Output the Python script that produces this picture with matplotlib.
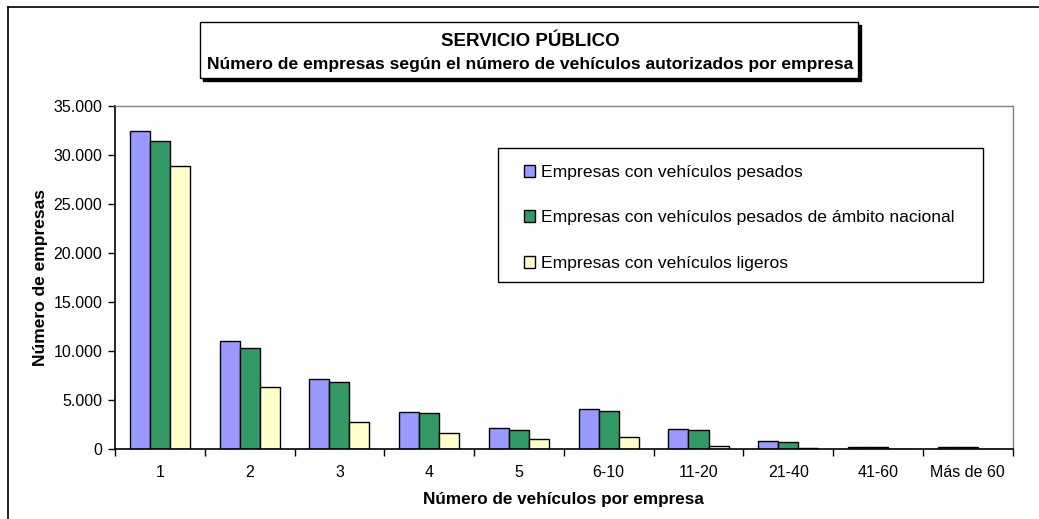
import numpy as np
import matplotlib
matplotlib.use('Agg')
import matplotlib.pyplot as plt
from matplotlib.patches import Rectangle
from matplotlib.ticker import FuncFormatter

categorias = ['1', '2', '3', '4', '5', '6-10', '11-20', '21-40', '41-60', 'Más de 60']
pesados = [32480, 11040, 7170, 3800, 2170, 4150, 2040, 850, 200, 200]
pesados_nacional = [31430, 10360, 6860, 3670, 2000, 3945, 1940, 785, 190, 185]
ligeros = [28850, 6380, 2815, 1695, 1080, 1225, 380, 90, 30, 30]

series = ['Empresas con vehículos pesados',
          'Empresas con vehículos pesados de ámbito nacional',
          'Empresas con vehículos ligeros']
colores = ['#9999FF', '#339966', '#FFFFCC']

plt.rcParams['font.family'] = ['Liberation Sans', 'DejaVu Sans']

W, H = 1039, 519
fig = plt.figure(figsize=(W / 100, H / 100), dpi=100)

def fx(px):
    return px / W

def fy(py):
    return 1 - py / H

# outer frame (left and top lines)
fig.add_artist(plt.Line2D([fx(8), fx(8)], [0, fy(7)], color='black', lw=1.2, transform=fig.transFigure))
fig.add_artist(plt.Line2D([fx(8), 1], [fy(7), fy(7)], color='black', lw=1.2, transform=fig.transFigure))

ax = fig.add_axes([fx(115), fy(449.3), fx(1012.7) - fx(115), fy(106) - fy(449.3)])

x = np.arange(len(categorias))
w = 0.223
for i, (vals, col, lab) in enumerate(zip([pesados, pesados_nacional, ligeros], colores, series)):
    ax.bar(x + (i - 1) * w, vals, w, color=col, edgecolor='black', linewidth=1.0, label=lab)

ax.set_xlim(-0.5, len(categorias) - 0.5)
ax.set_ylim(0, 35000)
ax.set_yticks(np.arange(0, 35001, 5000))
ax.yaxis.set_major_formatter(FuncFormatter(lambda v, p: f'{int(v):,}'.replace(',', '.')))
ax.set_xticks(x)
ax.set_xticklabels(categorias)
ax.set_xticks(np.arange(-0.5, len(categorias)), minor=True)
ax.tick_params(axis='x', which='major', length=0, pad=11, labelsize=11.5)
ax.tick_params(axis='x', which='minor', length=5, direction='out', width=1)
ax.tick_params(axis='y', length=5, direction='out', width=1, labelsize=11.5, pad=4)

for s in ['top', 'right']:
    ax.spines[s].set_color('#808080')
    ax.spines[s].set_linewidth(1.0)
for s in ['left', 'bottom']:
    ax.spines[s].set_color('black')
    ax.spines[s].set_linewidth(1.2)

ax.set_xlabel('Número de vehículos por empresa', fontsize=12.3, fontweight='bold', labelpad=9)
ax.set_ylabel('Número de empresas', fontsize=12.5, fontweight='bold', labelpad=4)

# title box with shadow
fig.add_artist(Rectangle((fx(203), fy(81)), fx(858) - fx(200), fy(22) - fy(78),
                         transform=fig.transFigure, facecolor='black', edgecolor='black', zorder=5))
fig.add_artist(Rectangle((fx(200), fy(78)), fx(858) - fx(200), fy(22) - fy(78),
                         transform=fig.transFigure, facecolor='white', edgecolor='black', lw=1, zorder=6))
fig.text(fx(530), fy(41), 'SERVICIO PÚBLICO', ha='center', va='center',
         fontsize=13.5, fontweight='bold', zorder=7)
fig.text(fx(530), fy(64), 'Número de empresas según el número de vehículos autorizados por empresa',
         ha='center', va='center', fontsize=12.6, fontweight='bold', zorder=7)

# legend box
fig.add_artist(Rectangle((fx(498), fy(282)), fx(983) - fx(498), fy(148) - fy(282),
                         transform=fig.transFigure, facecolor='white', edgecolor='black', lw=1, zorder=8))
leg = fig.legend(loc='upper left', bbox_to_anchor=(fx(524), fy(165)), frameon=False,
                 fontsize=12.6, handlelength=0.65, handleheight=0.65, handletextpad=0.3,
                 labelspacing=1.74, borderaxespad=0, borderpad=0)
leg.set_zorder(9)

fig.savefig('out.png', dpi=100)
